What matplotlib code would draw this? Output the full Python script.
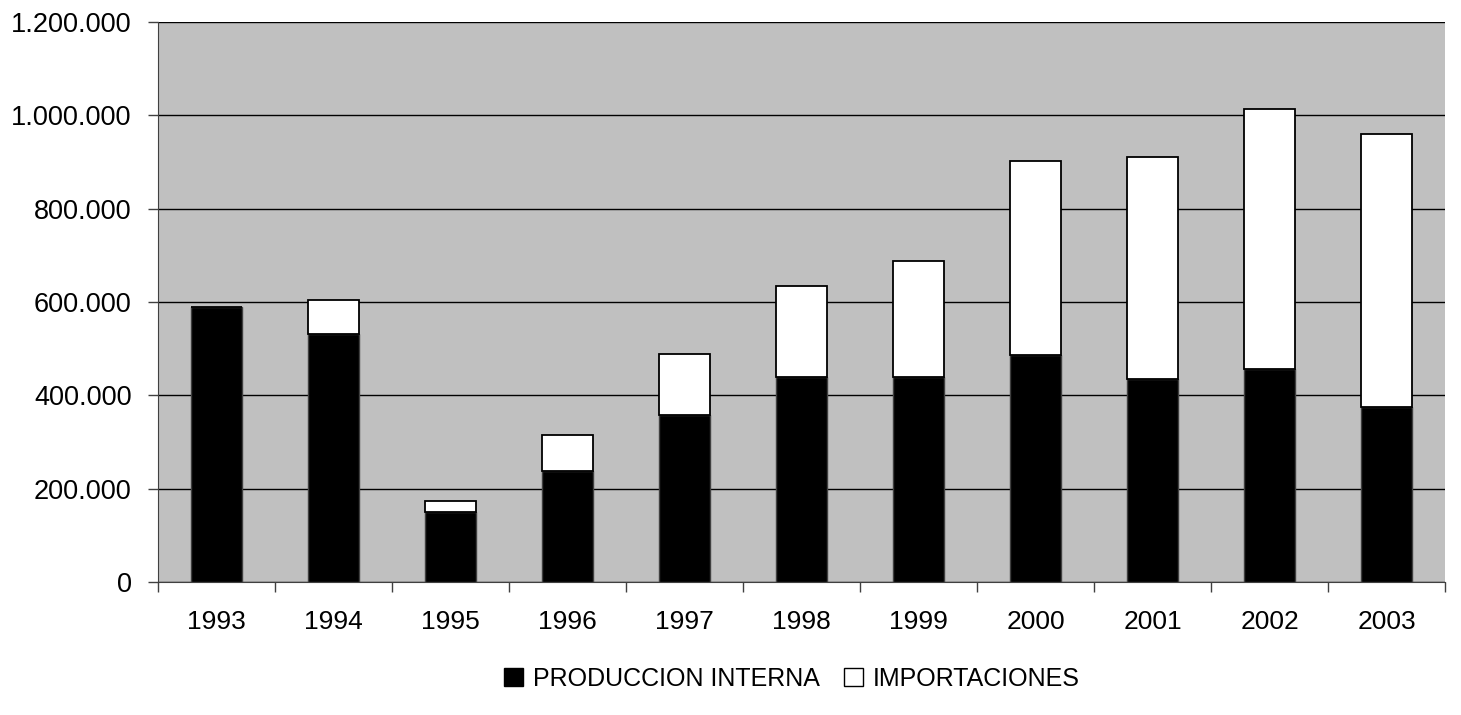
import matplotlib
matplotlib.use("Agg")
import matplotlib.pyplot as plt
from matplotlib.ticker import FuncFormatter, FixedLocator
from matplotlib.patches import Patch
import numpy as np

years = ["1993", "1994", "1995", "1996", "1997", "1998", "1999", "2000", "2001", "2002", "2003"]
produccion = [589000, 532000, 151000, 237000, 357000, 440000, 440000, 486000, 436000, 457000, 374000]
importaciones = [0, 73000, 23000, 78000, 132000, 194000, 247000, 417000, 475000, 557000, 587000]
labels = ["PRODUCCION INTERNA", "IMPORTACIONES"]

plt.rcParams['font.family'] = ['Liberation Sans', 'DejaVu Sans']

W, H = 1461, 715
fig = plt.figure(figsize=(W / 100, H / 100), dpi=100)
ax = fig.add_axes([158 / W, 1 - 582 / H, (1445 - 158) / W, (582 - 22) / H])
ax.set_facecolor("#C0C0C0")

x = np.arange(len(years))
ax.bar(x, produccion, width=0.43, color="black", edgecolor="#404040", linewidth=1, zorder=3)
ax.bar(x, importaciones, width=0.43, bottom=produccion, color="white", edgecolor="black",
       linewidth=1.3, zorder=3)

ax.set_xlim(-0.5, len(years) - 0.5)
ax.set_ylim(0, 1200000)
ax.set_yticks(np.arange(0, 1200001, 200000))
ax.yaxis.set_major_formatter(FuncFormatter(lambda v, p: f"{int(v):,}".replace(",", ".")))
ax.yaxis.grid(True, color="black", linewidth=1, zorder=1)
ax.set_axisbelow(True)

ax.set_xticks(x)
ax.set_xticklabels(years)
ax.xaxis.set_minor_locator(FixedLocator(np.arange(-0.5, len(years), 1.0)))
ax.tick_params(axis="x", which="major", length=0, pad=20, labelsize=19)
ax.tick_params(axis="x", which="minor", length=7, width=1, color="#404040")
ax.tick_params(axis="y", length=7, width=1, color="#404040", labelsize=19.5, pad=12)

for s in ["top", "right"]:
    ax.spines[s].set_visible(False)
ax.spines["left"].set_color("#404040")
ax.spines["bottom"].set_color("#404040")

handles = [Patch(facecolor="black", edgecolor="black"),
           Patch(facecolor="white", edgecolor="black")]
fig.legend(handles, labels, loc="center", bbox_to_anchor=(792 / W, 1 - 679 / H), ncol=2,
           frameon=False, fontsize=18, handlelength=0.75, handleheight=0.75,
           handletextpad=0.4, columnspacing=1.0, borderpad=0.2)

fig.savefig("out.png", dpi=100, facecolor="white")
